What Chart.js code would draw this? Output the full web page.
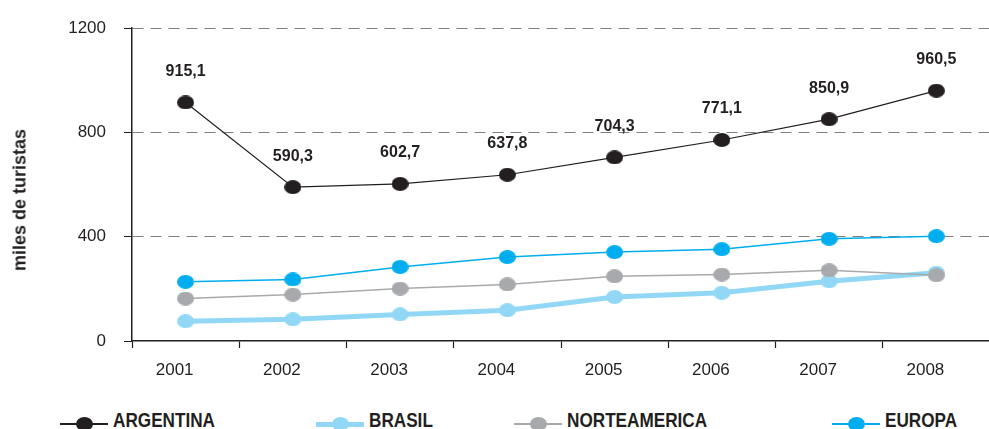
<!DOCTYPE html>
<html>
<head>
<meta charset="utf-8">
<script src="https://cdn.jsdelivr.net/npm/chart.js@4.4.1/dist/chart.umd.min.js"></script>
<style>
  html, body { margin: 0; padding: 0; background: #fff; overflow: hidden; width: 989px; height: 429px; }
  #wrap { position: absolute; left: 0; top: 0; width: 1003px; height: 395px; }
  #ytitle { position: absolute; left: 20px; top: 200px; transform: translate(-50%, -50%) rotate(-90deg);
    font: bold 18px "Liberation Sans", Arial, sans-serif; color: #231f20; white-space: nowrap; }
  .item { position: absolute; top: 410px; font: bold 19.5px "Liberation Sans", Arial, sans-serif;
    line-height: 20px; color: #231f20; white-space: nowrap; transform: scaleX(0.88); transform-origin: 0 0; }
  .mline { position: absolute; width: 48px; }
  .mdot { position: absolute; width: 17px; height: 14px; border-radius: 50%; }
</style>
</head>
<body>
<div id="wrap"><canvas id="chart" width="1003" height="395"></canvas></div>
<div id="ytitle">miles de turistas</div>
<div id="legend"></div>
<script>
const years = ['2001', '2002', '2003', '2004', '2005', '2006', '2007', '2008'];
const argentina = [915.1, 590.3, 602.7, 637.8, 704.3, 771.1, 850.9, 960.5];
const brasil = [76, 83, 102, 118, 169, 185, 229, 262];
const norteamerica = [163, 178, 201, 217, 248, 255, 271, 252];
const europa = [227, 236, 284, 322, 341, 352, 392, 402];
const yTicks = [0, 400, 800, 1200];

const series = [
  { name: 'ARGENTINA', data: argentina, color: '#231f20', width: 1.2, order: 0, lx: 60, tx: 113 },
  { name: 'BRASIL', data: brasil, color: '#92d8f6', width: 5, order: 3, lx: 316, tx: 369 },
  { name: 'NORTEAMERICA', data: norteamerica, color: '#a7a9ac', width: 1.5, order: 2, lx: 514, tx: 567 },
  { name: 'EUROPA', data: europa, color: '#00aeef', width: 1.5, order: 1, lx: 832, tx: 885 }
];

function makeDot(color) {
  const c = document.createElement('canvas');
  c.width = 17; c.height = 14;
  const g = c.getContext('2d');
  g.fillStyle = color;
  g.beginPath();
  g.ellipse(8.5, 7, 8.5, 7, 0, 0, Math.PI * 2);
  g.fill();
  return c;
}

// legend
const legend = document.getElementById('legend');
series.forEach(s => {
  const line = document.createElement('div');
  line.className = 'mline';
  line.style.left = s.lx + 'px';
  line.style.height = s.width + 'px';
  line.style.top = (424 - s.width / 2) + 'px';
  line.style.background = s.color;
  legend.appendChild(line);
  const dot = document.createElement('div');
  dot.className = 'mdot';
  dot.style.left = (s.lx + 24 - 8.5) + 'px';
  dot.style.top = (424 - 7) + 'px';
  dot.style.background = s.color;
  legend.appendChild(dot);
  const t = document.createElement('div');
  t.className = 'item';
  t.style.left = s.tx + 'px';
  t.textContent = s.name;
  legend.appendChild(t);
});

const valueLabels = {
  id: 'valueLabels',
  afterDatasetsDraw(chart) {
    const ctx = chart.ctx;
    const meta = chart.getDatasetMeta(0);
    ctx.save();
    ctx.font = 'bold 16px "Liberation Sans", Arial, sans-serif';
    ctx.fillStyle = '#231f20';
    ctx.textAlign = 'center';
    ctx.textBaseline = 'middle';
    meta.data.forEach((pt, i) => {
      ctx.fillText(argentina[i].toFixed(1).replace('.', ','), pt.x, pt.y - 31);
    });
    ctx.restore();
  }
};

const tickFont = { family: '"Liberation Sans", Arial, sans-serif', size: 17 };

new Chart(document.getElementById('chart'), {
  type: 'line',
  data: {
    labels: years,
    datasets: series.map(s => ({
      label: s.name,
      data: s.data,
      borderColor: s.color,
      borderWidth: s.width,
      backgroundColor: s.color,
      pointStyle: makeDot(s.color),
      pointRadius: 8,
      fill: false,
      tension: 0,
      order: s.order
    }))
  },
  options: {
    responsive: false,
    animation: false,
    devicePixelRatio: 1,
    layout: { padding: { top: 27, right: 0, bottom: 0, left: 0 } },
    plugins: { legend: { display: false }, tooltip: { enabled: false } },
    scales: {
      x: {
        offset: true,
        afterFit(scale) { scale.height = 54; },
        grid: { offset: true, drawOnChartArea: false, drawTicks: true, tickLength: 7, tickColor: '#231f20', tickWidth: 1.2 },
        border: { display: true, color: '#231f20', width: 1.5 },
        ticks: { color: '#231f20', padding: 12, labelOffset: -11, font: tickFont }
      },
      y: {
        min: 0,
        max: 1200,
        afterFit(scale) { scale.width = 132; },
        afterBuildTicks(scale) { scale.ticks = yTicks.map(v => ({ value: v })); },
        grid: {
          color: ctx => ctx.tick && ctx.tick.value === 0 ? 'rgba(0,0,0,0)' : '#808080',
          lineWidth: 1,
          tickLength: 8,
          tickColor: '#231f20',
          tickBorderDash: []
        },
        border: { display: true, color: '#231f20', width: 1.5, dash: [11, 7] },
        ticks: { color: '#231f20', padding: 18, font: tickFont, callback: v => String(v) }
      }
    }
  },
  plugins: [valueLabels]
});
</script>
</body>
</html>
